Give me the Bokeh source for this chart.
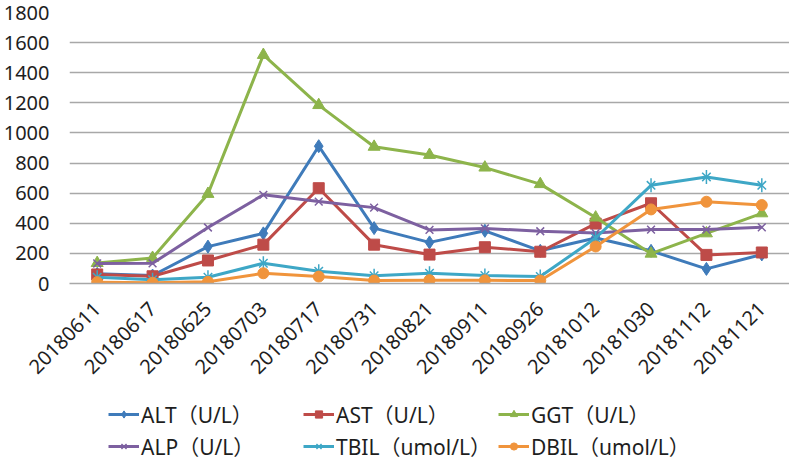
import math
from bokeh.plotting import figure
from bokeh.layouts import column
from bokeh.models import Legend, LegendItem, FactorRange, FixedTicker, Range1d
from bokeh.embed import file_html
from bokeh.resources import INLINE

dates = ["20180611", "20180617", "20180625", "20180703", "20180717", "20180731",
         "20180821", "20180911", "20180926", "20181012", "20181030", "20181112", "20181121"]

alt = [64, 53, 245, 333, 912, 368, 273, 350, 217, 302, 217, 97, 193]
ast = [60, 48, 153, 258, 633, 258, 192, 241, 211, 398, 533, 190, 206]
ggt = [136, 170, 595, 1518, 1185, 908, 854, 770, 660, 438, 198, 333, 466]
alp = [133, 134, 372, 589, 544, 504, 356, 366, 347, 335, 358, 358, 373]
tbil = [42, 25, 42, 134, 82, 52, 68, 53, 46, 302, 652, 708, 652]
dbil = [9, 5, 11, 68, 46, 20, 22, 21, 20, 246, 492, 543, 521]

labels = ["ALT（U/L）", "AST（U/L）", "GGT（U/L）", "ALP（U/L）", "TBIL（umol/L）", "DBIL（umol/L）"]
y_ticks = [0, 200, 400, 600, 800, 1000, 1200, 1400, 1600, 1800]

FONT = "'Noto Sans', 'Noto Sans CJK SC', sans-serif"

series = [
    (alt, "#3F7BBA", "diamond", 13),
    (ast, "#BE4B48", "square", 11),
    (ggt, "#8DB44B", "triangle", 12),
    (alp, "#7D60A0", "x", 11),
    (tbil, "#3EA7C6", "star6", 12),
    (dbil, "#F0943C", "circle", 11),
]


def draw(fig, vals, color, marker, size):
    rs = [fig.line(dates, vals, line_color=color, line_width=3)]
    if marker == "x":
        rs.append(fig.scatter(dates, vals, marker="x", size=size, line_color=color, line_width=1.5))
    elif marker == "star6":
        rs.append(fig.scatter(dates, vals, marker="x", size=size, line_color=color, line_width=1.5))
        rs.append(fig.scatter(dates, vals, marker="dash", angle=math.pi / 2, size=size + 2,
                              line_color=color, line_width=1.5))
    else:
        rs.append(fig.scatter(dates, vals, marker=marker, size=size, fill_color=color, line_color=color))
    return rs


# ---- main chart ----
p = figure(x_range=FactorRange(*dates), y_range=(0, 1800),
           frame_width=720, frame_height=271,
           output_backend="svg", toolbar_location=None,
           min_border_left=64, min_border_right=0, min_border_top=12, min_border_bottom=108)
p.outline_line_color = None
p.background_fill_color = "white"
p.xgrid.grid_line_color = None
p.ygrid.grid_line_color = "#A8A8A8"
p.ygrid.grid_line_width = 1.5

p.yaxis.ticker = FixedTicker(ticks=y_ticks)
for ax in (p.xaxis[0], p.yaxis[0]):
    ax.axis_line_color = None
    ax.major_tick_line_color = None
    ax.minor_tick_line_color = None
    ax.major_label_text_font = FONT
    ax.major_label_text_color = "#1e1e1e"
p.xaxis.axis_line_color = "#A8A8A8"
p.xaxis.axis_line_width = 1.5
p.yaxis.major_label_text_font_size = "20px"
p.yaxis.major_label_standoff = 14
p.xaxis.major_label_text_font_size = "20px"
p.xaxis.major_label_orientation = math.pi / 4
p.xaxis.major_label_standoff = 16

for vals, color, marker, size in series:
    draw(p, vals, color, marker, size)

# ---- legend strip (same series, drawn outside its visible range) ----
lg = figure(x_range=FactorRange(*dates), y_range=Range1d(-20, -10),
            width=784, height=70, output_backend="svg", toolbar_location=None,
            x_axis_location=None, y_axis_location=None,
            min_border_left=0, min_border_right=0, min_border_top=0, min_border_bottom=0)
lg.outline_line_color = None
lg.xgrid.grid_line_color = None
lg.ygrid.grid_line_color = None

items = []
for (vals, color, marker, size), lab in zip(series, labels):
    items.append(LegendItem(label=lab, renderers=draw(lg, vals, color, marker, size)))

legend = Legend(items=items, orientation="horizontal", nrows=2, ncols=3, location=(39, 0))
legend.label_text_font = FONT
legend.label_text_font_size = "21px"
legend.label_text_color = "#1e1e1e"
legend.glyph_width = 31
legend.glyph_height = 18
legend.label_height = 18
legend.label_standoff = 2
legend.label_width = 160
legend.spacing = 2
legend.padding = 0
legend.margin = 0
legend.border_line_color = None
legend.background_fill_alpha = 0
lg.add_layout(legend, "center")

open("out.html", "w").write(file_html(column(p, lg, spacing=0), INLINE))
